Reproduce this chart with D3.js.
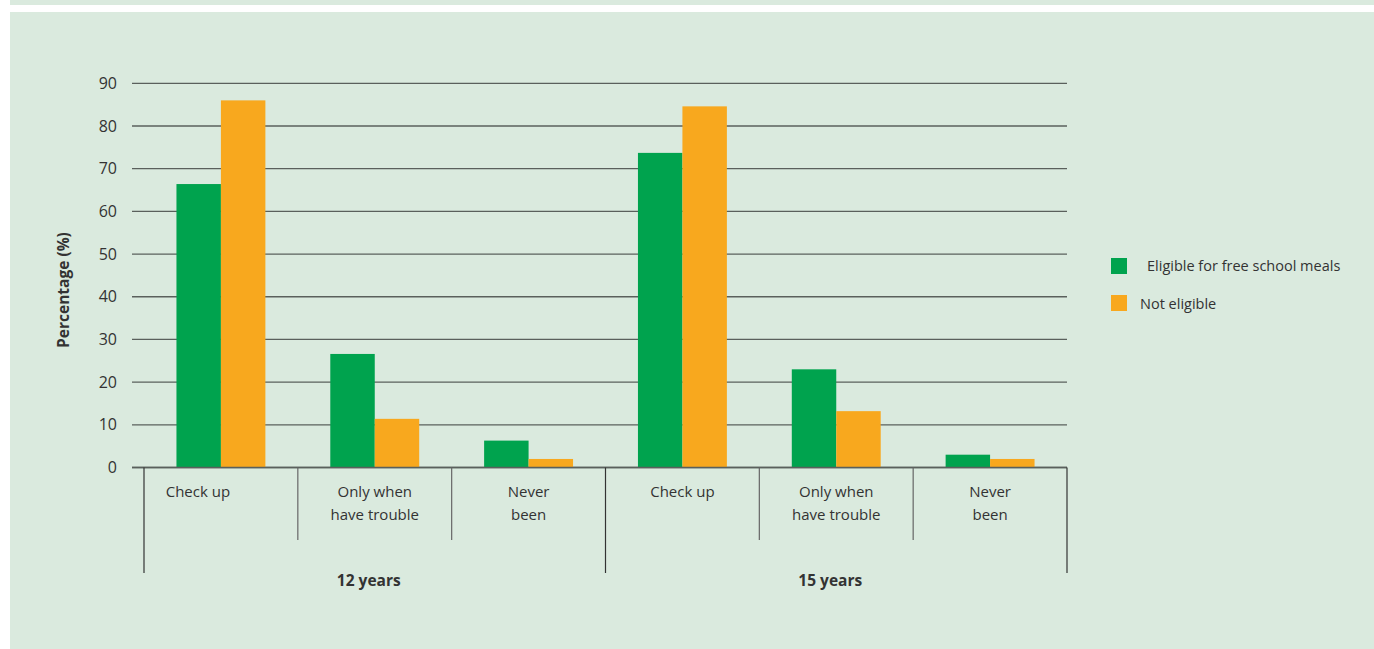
<!DOCTYPE html>
<html><head><meta charset="utf-8">
<script src="https://cdn.jsdelivr.net/npm/d3@7"></script>
<style>body{margin:0;background:#fff;}svg{display:block;}text{font-family:"Open Sans","Noto Sans",sans-serif;fill:#333;}</style>
</head><body><svg id="c" width="1374" height="649"></svg>
<script>
const groups = ["12 years", "15 years"];
const categories = ["Check up", "Only when\nhave trouble", "Never\nbeen"];
const seriesNames = ["Eligible for free school meals", "Not eligible"];
const eligible = [66.4, 26.6, 6.3, 73.7, 23.0, 3.0];
const notEligible = [86.0, 11.4, 2.0, 84.6, 13.2, 2.0];
const yTicks = [0, 10, 20, 30, 40, 50, 60, 70, 80, 90];
const colors = ["#00a34e", "#f8a81e"];

const svg = d3.select("#c");
svg.append("rect").attr("x",10).attr("y",0).attr("width",1364).attr("height",5).attr("fill","#daeade");
svg.append("rect").attr("x",10).attr("y",12).attr("width",1364).attr("height",637).attr("fill","#daeade");

const x0 = 144, x1 = 1067, yBase = 467.5, yTop = 83.3;
const keys = [];
groups.forEach((g,gi)=>categories.forEach((c,ci)=>keys.push(gi+"-"+ci)));
const x = d3.scaleBand().domain(keys).range([x0,x1]).paddingInner(0).paddingOuter(0);
const y = d3.scaleLinear().domain([0,90]).range([yBase,yTop]);
const inner = d3.scaleBand().domain([0,1]).range([0,x.bandwidth()]).paddingOuter(0.73).paddingInner(0);

// gridlines
svg.append("g").selectAll("line").data(yTicks).join("line")
  .attr("x1",132).attr("x2",x1).attr("y1",d=>y(d)).attr("y2",d=>y(d))
  .attr("stroke","#5a605c").attr("stroke-width",1.3);

// y tick labels
svg.append("g").selectAll("text").data(yTicks).join("text")
  .attr("x",117).attr("y",d=>y(d)).attr("dy","0.35em").attr("text-anchor","end")
  .attr("font-size",16).text(d=>d);

// y title
svg.append("text").attr("transform","translate(69,290) rotate(-90)")
  .attr("text-anchor","middle").attr("font-size",15.5).attr("font-weight","bold").text("Percentage (%)");

// bars
const data = keys.map((k,i)=>({k, vals:[eligible[i], notEligible[i]]}));
const bg = svg.append("g").selectAll("g").data(data).join("g")
  .attr("transform",d=>`translate(${x(d.k)},0)`);
bg.selectAll("rect").data(d=>d.vals.map((v,j)=>({v,j}))).join("rect")
  .attr("x",d=>inner(d.j)).attr("width",inner.bandwidth())
  .attr("y",d=>y(d.v)).attr("height",d=>yBase-y(d.v)).attr("fill",d=>colors[d.j]);

// baseline
svg.append("line").attr("x1",132).attr("x2",x1).attr("y1",yBase).attr("y2",yBase)
  .attr("stroke","#5a605c").attr("stroke-width",1.3);

// category separators
const bounds = keys.map(k=>x(k)).concat([x1]);
svg.append("g").selectAll("line").data(bounds).join("line")
  .attr("x1",d=>d).attr("x2",d=>d).attr("y1",yBase)
  .attr("y2",(d,i)=> (i%3===0) ? 573 : 540)
  .attr("stroke",(d,i)=> (i%3===0) ? "#333" : "#666").attr("stroke-width",1.2);

// category labels
const cl = svg.append("g").selectAll("text").data(keys).join("text")
  .attr("text-anchor","middle").attr("font-size",15)
  .attr("transform",(k,i)=>`translate(${x(k)+x.bandwidth()/2 - (i===0?23:0)},497)`);
cl.each(function(k){
  const ci = +k.split("-")[1];
  d3.select(this).selectAll("tspan").data(categories[ci].split("\n")).join("tspan")
    .attr("x",0).attr("dy",(d,i)=>i?23:0).text(d=>d);
});

// group labels
svg.append("g").selectAll("text").data(groups).join("text")
  .attr("x",(g,gi)=>(x(gi+"-0")+x(gi+"-2")+x.bandwidth())/2 - 6)
  .attr("y",586).attr("text-anchor","middle").attr("font-size",15.5).attr("font-weight","bold")
  .text(d=>d);

// legend
const leg = svg.append("g");
const lx = [1147, 1140];
seriesNames.forEach((s,i)=>{
  leg.append("rect").attr("x",1111).attr("y",258+i*37).attr("width",16).attr("height",16).attr("fill",colors[i]);
  leg.append("text").attr("x",lx[i]).attr("y",266+i*38).attr("dy","0.35em").attr("font-size",14.5).text(s);
});
</script></body></html>
